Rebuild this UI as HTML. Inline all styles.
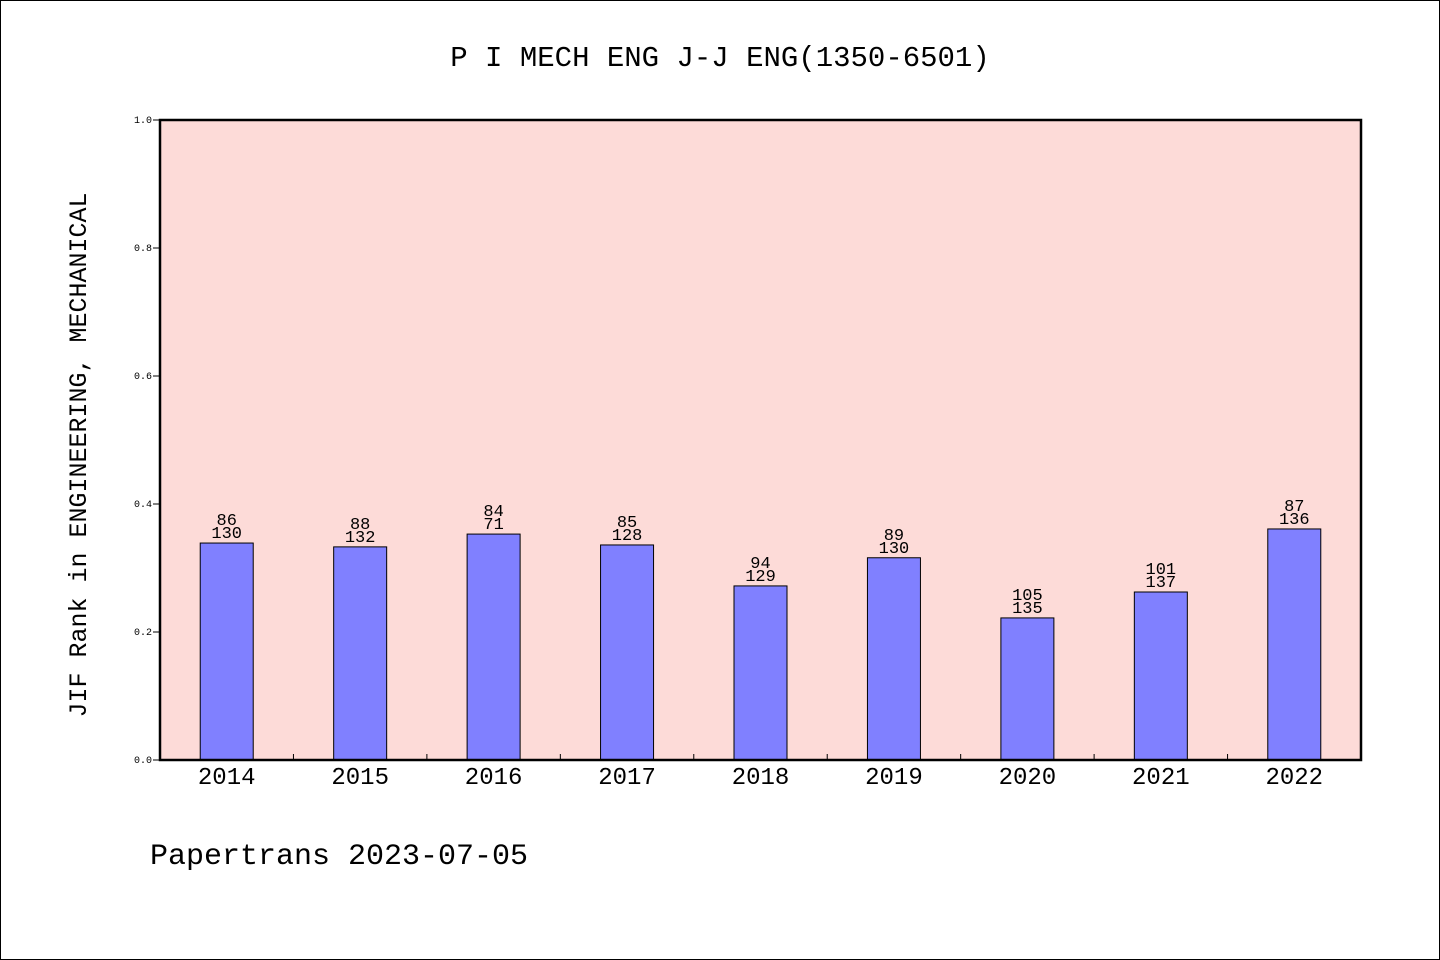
<!DOCTYPE html>
<html><head><meta charset="utf-8"><style>
body{margin:0;background:#fff}
svg{display:block}
text{font-family:"Liberation Mono","WenQuanYi Zen Hei",monospace;fill:#000}
</style></head><body>
<svg id="chart" width="1440" height="960" xmlns="http://www.w3.org/2000/svg">
<rect x="0.5" y="0.5" width="1439" height="959" fill="#fff" stroke="#000"/>
<text x="720" y="66" font-size="29" text-anchor="middle">P I MECH ENG J-J ENG(1350-6501)</text>
<rect x="160" y="120" width="1201" height="640" fill="#fddbd8"/>
<g id="bars"></g>
<rect x="160" y="120" width="1201" height="640" fill="none" stroke="#000" stroke-width="2.5"/>
<text transform="translate(86,455) rotate(-90)" font-size="25" text-anchor="middle">JIF Rank in ENGINEERING, MECHANICAL</text>
<text x="150" y="864" font-size="30">Papertrans 2023-07-05</text>
</svg>
<script>
const categories=["2014","2015","2016","2017","2018","2019","2020","2021","2022"];
const values=[0.339,0.333,0.353,0.336,0.272,0.316,0.222,0.2625,0.361];
const ranks=["86","88","84","85","94","89","105","101","87"];
const totals=["130","132","71","128","129","130","135","137","136"];
const yTicks=[0,0.2,0.4,0.6,0.8,1.0];
const NS="http://www.w3.org/2000/svg";
const X0=160,X1=1361,Y0=760,Y1=120;
const band=(X1-X0)/categories.length;
const y=v=>Y0-(Y0-Y1)*v;
const xc=i=>X0+(i+0.5)*band;
const g=document.getElementById('bars');
function mk(t,a){const e=document.createElementNS(NS,t);for(const k in a)e.setAttribute(k,a[k]);g.appendChild(e);return e;}
yTicks.forEach(v=>{
  const l=mk('line',{x1:X0-7,x2:X0,y1:y(v),y2:y(v),stroke:'#000'});
  
  
  const t=mk('text',{x:X0-8,y:y(v)+3,'font-size':10,'text-anchor':'end'});
  t.textContent=v.toFixed(1);
  
  
});
for(let i=1;i<categories.length;i++){
  const l=mk('line',{x1:X0+i*band,x2:X0+i*band,y1:Y0,y2:Y0-6,stroke:'#000'});
  
  
}
categories.forEach((c,i)=>{
  const bw=53;
  const r=mk('rect',{x:xc(i)-bw/2,y:y(values[i]),width:bw,height:Y0-y(values[i]),fill:'#8080ff',stroke:'#000','stroke-width':1});
  
  
  const t1=mk('text',{x:xc(i),y:y(values[i])-18,'font-size':17,'text-anchor':'middle'});
  t1.textContent=ranks[i];
  
  
  const t2=mk('text',{x:xc(i),y:y(values[i])-5,'font-size':17,'text-anchor':'middle'});
  t2.textContent=totals[i];
  
  
  const tx=mk('text',{x:xc(i),y:784,'font-size':24,'text-anchor':'middle'});
  tx.textContent=c;
  
  
});
</script>
</body></html>
